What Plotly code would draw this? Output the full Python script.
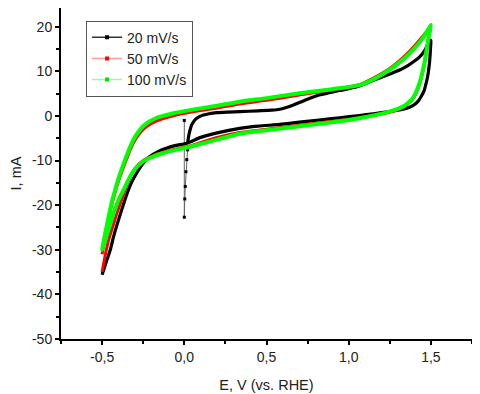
import plotly.graph_objects as go

# 20 mV/s: initial transient at 0 V, then the full loop (anodic up to 1.5 V, back to -0.5 V)
e_20_start = [0.0, 0.0, 0.003, 0.006, 0.010, 0.015, 0.020]
i_20_start = [-1.0, -22.7, -18.6, -15.8, -12.5, -9.8, -7.6]
e_20 = [0.020, 0.030, 0.045, 0.060, 0.076, 0.095, 0.116, 0.15, 0.197, 0.26, 0.337, 0.45, 0.53,
        0.58, 0.62, 0.66, 0.70, 0.76, 0.82, 0.88, 0.944, 1.00, 1.065, 1.15, 1.25, 1.31, 1.36,
        1.40, 1.43, 1.45, 1.47, 1.48, 1.49, 1.50,
        1.498, 1.494, 1.488, 1.48, 1.47, 1.46, 1.44, 1.42, 1.39, 1.35, 1.30, 1.25, 1.15, 1.065,
        0.944, 0.82, 0.70, 0.58, 0.45, 0.337, 0.20, 0.10, 0.015, -0.05, -0.106, -0.16, -0.21,
        -0.25, -0.29, -0.32, -0.34, -0.37, -0.40, -0.43, -0.45, -0.47, -0.49, -0.50]
i_20 = [-6.0, -3.9, -2.0, -1.1, -0.5, -0.1, 0.2, 0.5, 0.74, 0.88, 0.96, 1.15, 1.3,
        1.5, 1.9, 2.4, 3.0, 3.9, 4.7, 5.2, 5.7, 6.1, 6.7, 8.0, 9.4, 10.3, 11.3,
        12.3, 13.2, 14.0, 15.2, 16.0, 16.6, 17.0,
        15.5, 13.0, 10.8, 8.8, 7.2, 5.8, 4.3, 3.2, 2.3, 1.7, 1.3, 1.0, 0.5, 0.1,
        -0.4, -0.9, -1.4, -1.9, -2.3, -2.8, -3.8, -4.8, -6.1, -6.6, -7.2, -8.0, -9.1,
        -10.6, -12.8, -14.8, -16.6, -19.8, -23.3, -27.0, -30.0, -32.2, -34.4, -35.6]

# 50 mV/s
e_50 = [-0.50, -0.49, -0.48, -0.47, -0.46, -0.45, -0.44, -0.42, -0.40, -0.37, -0.34, -0.31,
        -0.28, -0.25, -0.21, -0.16, -0.11, -0.06, 0.035, 0.10, 0.20, 0.337, 0.50, 0.70,
        0.90, 1.065, 1.15, 1.247, 1.31, 1.37, 1.42, 1.449, 1.475, 1.50,
        1.49, 1.48, 1.46, 1.43, 1.39, 1.33, 1.247, 1.065, 0.90, 0.70, 0.50, 0.337, 0.20, 0.035,
        -0.05, -0.127, -0.19, -0.25, -0.30, -0.33, -0.36, -0.385, -0.41, -0.435, -0.46, -0.48,
        -0.50]
i_50 = [-31.0, -28.8, -26.8, -24.8, -23.0, -21.3, -19.7, -17.0, -14.6, -11.5, -8.6, -6.1,
        -4.3, -3.0, -1.9, -1.0, -0.4, 0.1, 0.8, 1.2, 1.8, 2.7, 3.5, 4.7,
        5.8, 7.0, 8.5, 10.6, 12.4, 14.5, 16.5, 17.8, 19.0, 20.3,
        18.2, 16.0, 11.5, 7.0, 3.8, 1.9, 0.8, -0.4, -1.2, -2.1, -3.0, -3.7, -4.8, -6.7,
        -7.4, -8.1, -8.9, -10.0, -11.8, -13.8, -16.6, -19.2, -21.8, -24.8, -27.7, -31.0,
        -35.0]

# 100 mV/s
e_100 = [-0.50, -0.49, -0.48, -0.47, -0.46, -0.45, -0.44, -0.42, -0.40, -0.37, -0.34, -0.31,
         -0.28, -0.25, -0.21, -0.167, -0.12, -0.066, 0.035, 0.10, 0.20,
         0.337, 0.50, 0.70, 0.90, 1.065, 1.15, 1.247, 1.31, 1.37, 1.42, 1.449, 1.475, 1.50,
         1.49, 1.48, 1.46, 1.43, 1.39, 1.33, 1.247, 1.065, 0.90, 0.70, 0.50, 0.337, 0.20, 0.035,
         -0.05, -0.127, -0.19, -0.25, -0.30, -0.33, -0.37, -0.40, -0.43, -0.455, -0.48, -0.50]
i_100 = [-30.0, -28.0, -26.1, -24.3, -22.5, -20.8, -19.2, -16.5, -14.0, -10.8, -7.9, -5.4,
         -3.6, -2.3, -1.2, -0.4, 0.1, 0.6, 1.3, 1.7, 2.3,
         3.2, 4.0, 5.1, 6.0, 6.9, 8.2, 10.3, 12.0, 14.0, 16.0, 17.4, 18.8, 20.4,
         18.5, 16.3, 11.8, 7.3, 4.0, 2.1, 0.96, -0.5, -1.4, -2.3, -3.2, -4.0, -5.3, -6.9,
         -7.6, -8.3, -9.1, -10.2, -11.9, -13.6, -16.6, -18.8, -21.8, -24.7, -27.7, -30.0]

series_names = ["20 mV/s", "50 mV/s", "100 mV/s"]

x_tickvals = [-0.5, 0.0, 0.5, 1.0, 1.5]
x_ticktext = ["-0,5", "0,0", "0,5", "1,0", "1,5"]
x_minor = [-0.75, -0.25, 0.25, 0.75, 1.25, 1.75]
y_tickvals = [-50, -40, -30, -20, -10, 0, 10, 20]
y_ticktext = ["-50", "-40", "-30", "-20", "-10", "0", "10", "20"]
y_minor = [-45, -35, -25, -15, -5, 5, 15]

FONT = "Liberation Sans, Arial, sans-serif"
TXT = "#222222"

fig = go.Figure()

# curves (no legend), drawn thick like the densely-marked originals
fig.add_trace(go.Scatter(x=e_20_start, y=i_20_start, mode="lines+markers",
                         line=dict(color="#666666", width=1),
                         marker=dict(color="#000000", size=3, symbol="square"),
                         showlegend=False, hoverinfo="skip"))
fig.add_trace(go.Scatter(x=e_20, y=i_20, mode="lines",
                         line=dict(color="#000000", width=3.2, shape="spline", smoothing=0.6),
                         showlegend=False))
fig.add_trace(go.Scatter(x=e_50, y=i_50, mode="lines",
                         line=dict(color="#ff0000", width=3, shape="spline", smoothing=0.6),
                         showlegend=False))
fig.add_trace(go.Scatter(x=e_100, y=i_100, mode="lines",
                         line=dict(color="#00ff00", width=4, shape="spline", smoothing=0.6),
                         showlegend=False))

# legend entries: thin line with a small marker
legend_styles = [("#333333", "#000000"), ("#ff9a9a", "#ff0000"), ("#9aff9a", "#00e000")]
for name, (lc, mc) in zip(series_names, legend_styles):
    fig.add_trace(go.Scatter(x=[None], y=[None], mode="lines+markers", name=name,
                             line=dict(color=lc, width=1.5),
                             marker=dict(color=mc, size=4, symbol="square")))

axis_common = dict(
    showline=True, linecolor="#000000", linewidth=2, mirror=True,
    showgrid=False, zeroline=False, automargin=False,
    ticks="outside", ticklen=4, tickwidth=1.5, tickcolor="#000000",
    tickfont=dict(family=FONT, size=14, color=TXT),
)

fig.update_xaxes(
    range=[-0.75, 1.75], tickmode="array", tickvals=x_tickvals, ticktext=x_ticktext,
    minor=dict(tickmode="array", tickvals=x_minor, ticks="outside", ticklen=3, tickwidth=1.5,
               tickcolor="#000000"),
    title=dict(text="E, V (vs. RHE)", font=dict(family=FONT, size=14.5, color=TXT), standoff=16),
    **axis_common,
)
fig.update_yaxes(
    range=[-50, 24.2], tickmode="array", tickvals=y_tickvals, ticktext=y_ticktext,
    minor=dict(tickmode="array", tickvals=y_minor, ticks="outside", ticklen=3, tickwidth=1.5,
               tickcolor="#000000"),
    title=dict(text="I, mA", font=dict(family=FONT, size=14.5, color=TXT), standoff=14),
    **axis_common,
)

# the page body adds an 8 px offset, so margins are set 8 px short on the left/top
fig.update_layout(
    width=480, height=394,
    margin=dict(l=53, r=16, t=0, b=63, autoexpand=False),
    paper_bgcolor="#ffffff", plot_bgcolor="#ffffff",
    font=dict(family=FONT, size=14, color=TXT),
    legend=dict(x=0.061, y=0.962, xanchor="left", yanchor="top",
                bordercolor="#555555", borderwidth=1, bgcolor="#ffffff",
                font=dict(family=FONT, size=14, color=TXT),
                tracegroupgap=0, itemwidth=30),
)

fig.write_html("out.html")
